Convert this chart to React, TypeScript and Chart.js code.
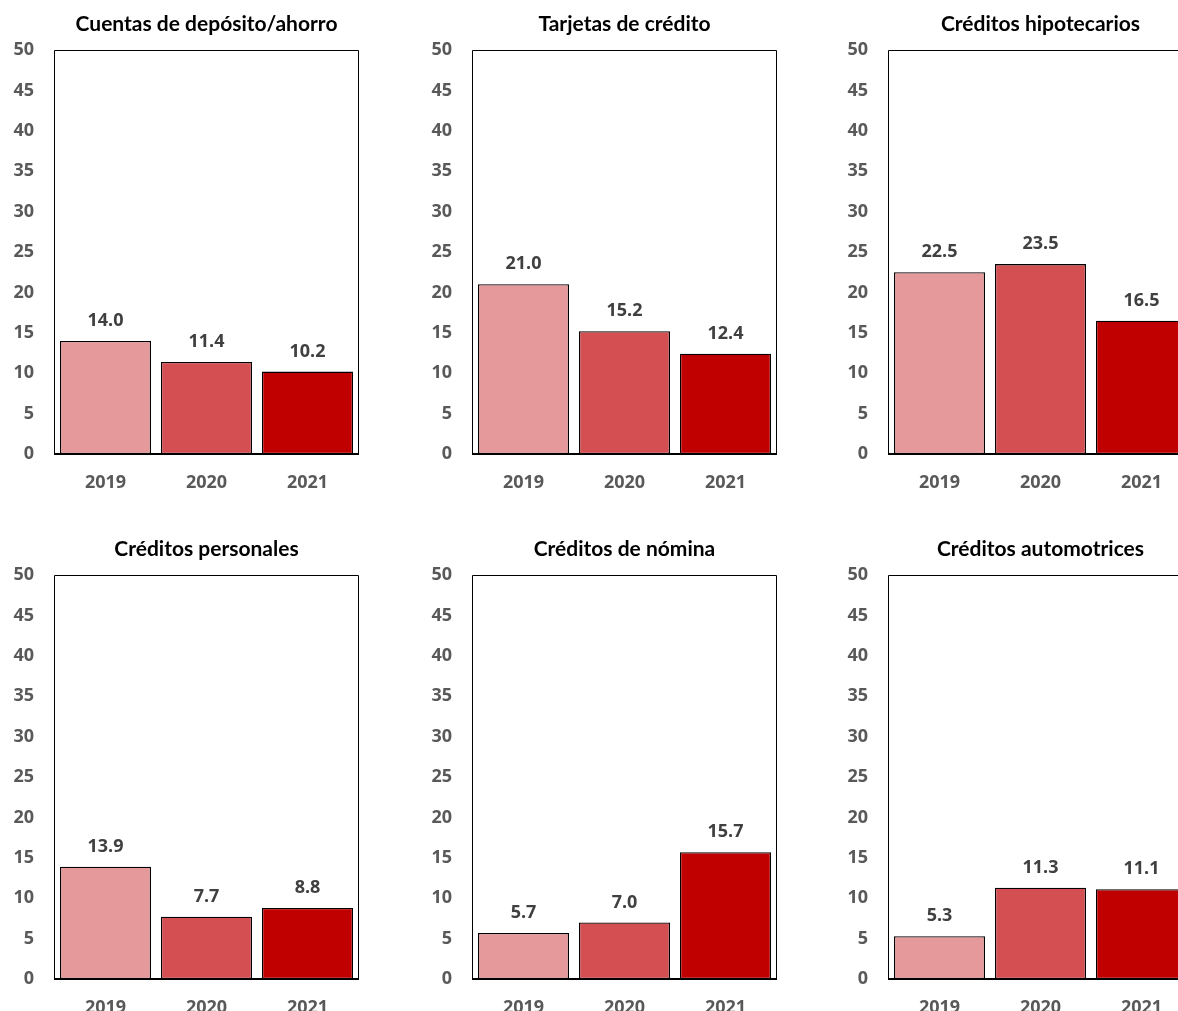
import React, { useEffect, useRef } from 'react';
import { Chart, registerables } from 'chart.js';

Chart.register(...registerables);

// Categories and colours per year
const years = ['2019', '2020', '2021'];
const yearColors = ['#E6999A', '#D44F51', '#C00000'];

// Y axis range
const yMin = 0;
const yMax = 50;
const yStep = 5;

// Series values (percent) for each product
const cuentasDeposito = [14.0, 11.4, 10.2];
const tarjetasCredito = [21.0, 15.2, 12.4];
const creditosHipotecarios = [22.5, 23.5, 16.5];
const creditosPersonales = [13.9, 7.7, 8.8];
const creditosNomina = [5.7, 7.0, 15.7];
const creditosAutomotrices = [5.3, 11.3, 11.1];

const panelTitles = [
  'Cuentas de depósito/ahorro',
  'Tarjetas de crédito',
  'Créditos hipotecarios',
  'Créditos personales',
  'Créditos de nómina',
  'Créditos automotrices',
];
const panelValues = [
  cuentasDeposito,
  tarjetasCredito,
  creditosHipotecarios,
  creditosPersonales,
  creditosNomina,
  creditosAutomotrices,
];

const TITLE_FONT = 'Lato, "Open Sans", sans-serif';
const NUM_FONT = '"Open Sans", Lato, sans-serif';
const CANVAS_W = 418;
const CANVAS_H = 525;
const COL_LEFT = [0, 418, 834];

function Panel({ title, values, left, top }: { title: string; values: number[]; left: number; top: number }) {
  const ref = useRef<HTMLCanvasElement | null>(null);

  useEffect(() => {
    if (!ref.current) return;

    const framePlugin = {
      id: 'frame',
      afterDraw(chart: any) {
        const { ctx, chartArea } = chart;
        const { left: l, right: r, top: t, bottom: b } = chartArea;
        ctx.save();
        ctx.strokeStyle = '#000000';
        ctx.lineWidth = 1;
        ctx.beginPath();
        ctx.moveTo(Math.round(l) - 0.5, b);
        ctx.lineTo(Math.round(l) - 0.5, Math.round(t) + 0.5);
        ctx.lineTo(Math.round(r) + 0.5, Math.round(t) + 0.5);
        ctx.lineTo(Math.round(r) + 0.5, b);
        ctx.stroke();
        ctx.lineWidth = 2;
        ctx.beginPath();
        ctx.moveTo(Math.round(l) - 1, Math.round(b));
        ctx.lineTo(Math.round(r) + 1, Math.round(b));
        ctx.stroke();
        ctx.restore();
      },
    };

    const labelPlugin = {
      id: 'panelLabels',
      afterDatasetsDraw(chart: any) {
        const { ctx, chartArea } = chart;
        ctx.save();
        // panel title
        ctx.font = `bold 21px ${TITLE_FONT}`;
        ctx.fillStyle = '#000000';
        ctx.textAlign = 'center';
        ctx.textBaseline = 'middle';
        ctx.fillText(title, (chartArea.left + chartArea.right) / 2, 24);
        // value labels above bars
        ctx.font = `bold 18px ${NUM_FONT}`;
        ctx.fillStyle = '#404040';
        const meta = chart.getDatasetMeta(0);
        meta.data.forEach((bar: any, i: number) => {
          ctx.fillText(values[i].toFixed(1), bar.x, bar.y - 20);
        });
        ctx.restore();
      },
    };

    const chart = new Chart(ref.current, {
      type: 'bar',
      data: {
        labels: years,
        datasets: [
          {
            data: values,
            backgroundColor: yearColors,
            borderColor: '#000000',
            borderWidth: 1.3,
            borderSkipped: false,
            barPercentage: 91 / 101,
            categoryPercentage: 1,
          },
        ],
      },
      options: {
        responsive: false,
        animation: false,
        devicePixelRatio: 1,
        layout: { padding: { top: 50, right: 60, left: 0, bottom: 0 } },
        plugins: {
          legend: { display: false },
          title: { display: false },
          tooltip: { enabled: false },
        },
        scales: {
          x: {
            grid: { display: false, drawTicks: false },
            border: { display: false },
            ticks: {
              color: '#595959',
              font: { family: NUM_FONT, size: 18, weight: 'bold' },
              padding: 18,
            },
            afterFit(scale: any) {
              scale.height = 71;
            },
          },
          y: {
            min: yMin,
            max: yMax,
            grid: { display: false, drawTicks: false },
            border: { display: false },
            ticks: {
              stepSize: yStep,
              color: '#595959',
              font: { family: NUM_FONT, size: 18, weight: 'bold' },
              padding: 21,
            },
            afterFit(scale: any) {
              scale.width = 55;
            },
          },
        },
      },
      plugins: [framePlugin, labelPlugin],
    });

    return () => chart.destroy();
  }, [title, values]);

  return (
    <canvas
      ref={ref}
      width={CANVAS_W}
      height={CANVAS_H}
      style={{ position: 'absolute', left, top, width: CANVAS_W, height: CANVAS_H }}
    />
  );
}

export default function App() {
  return (
    <div
      style={{
        position: 'absolute',
        left: 0,
        top: 0,
        width: 1178,
        height: 1011,
        overflow: 'hidden',
        background: '#ffffff',
      }}
    >
      {panelTitles.map((t, i) => (
        <Panel
          key={t}
          title={t}
          values={panelValues[i]}
          left={COL_LEFT[i % 3]}
          top={Math.floor(i / 3) * CANVAS_H}
        />
      ))}
    </div>
  );
}
